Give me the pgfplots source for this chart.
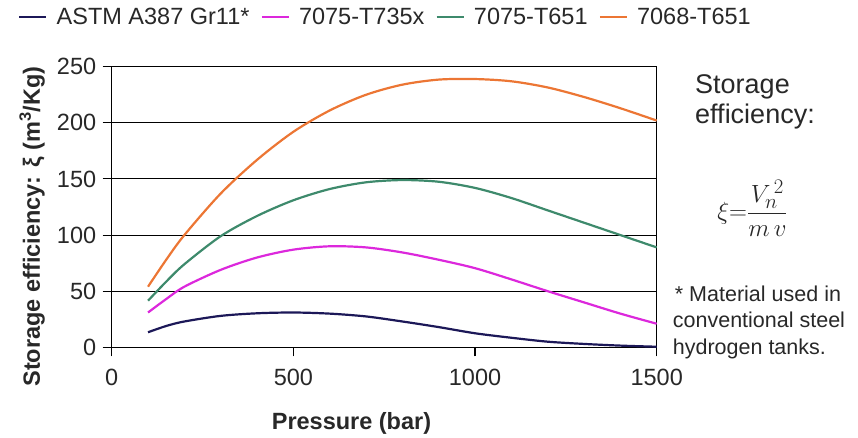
\documentclass[border=0pt]{standalone}
\usepackage{fontspec}
\setmainfont{Liberation Sans}
\usepackage{pgfplots}
\pgfplotsset{compat=1.18}
\definecolor{cnavy}{RGB}{28,24,88}
\definecolor{cmag}{RGB}{220,40,220}
\definecolor{cgreen}{RGB}{62,138,108}
\definecolor{corange}{RGB}{236,118,52}
\definecolor{ctext}{RGB}{40,40,40}
\begin{document}
\begin{tikzpicture}
\useasboundingbox (-111.7pt,-90.7pt) rectangle (746.3pt,347.3pt);
\begin{axis}[
  scale only axis, width=545pt, height=280.6pt,
  at={(0pt,0pt)}, anchor=south west,
  xmin=0, xmax=1500, ymin=0, ymax=250,
  xtick={0,500,1000,1500}, ytick={0,50,100,150,200,250},
  ymajorgrids, grid style={black, line width=1.1pt},
  axis line style={black, line width=1.1pt},
  tick style={black, line width=1.1pt},
  tick align=outside, major tick length=9pt,
  xtick pos=bottom, ytick pos=left,
  ticklabel style={font=\fontsize{23.5}{24}\selectfont, text=ctext},
  /pgf/number format/assume math mode=true,
  /pgf/number format/set thousands separator={},
  xticklabel style={yshift=-9pt},
  yticklabel style={xshift=-3pt},
  xlabel={Pressure (bar)},
  xlabel style={font=\fontsize{23.5}{24}\selectfont\bfseries, text=ctext, at={(axis description cs:0.44,-0.27)}, anchor=center},
  ylabel={Storage efficiency: ξ (m\textsuperscript{3}/Kg)},
  ylabel style={font=\fontsize{23.5}{24}\selectfont\bfseries, text=ctext, at={(axis description cs:-0.1316,0.4305)}, anchor=base, rotate=0},
  legend columns=4,
  legend style={at={(axis description cs:-0.172,1.177)}, anchor=west, draw=none, fill=none,
    font=\fontsize{23.5}{24}\selectfont, text=ctext, inner sep=0pt,
    /tikz/every odd column/.append style={column sep=7pt},
    /tikz/every even column/.append style={column sep=9pt}},
  legend image code/.code={\draw[#1, line width=2.5pt] (0pt,0pt) -- (27pt,0pt);},
  clip=false,
  every axis plot/.append style={line width=2.2pt, smooth},
]
\addplot[cnavy] coordinates {
(100,13.4) (150,19) (200,23) (300,28) (400,30.3) (500,31) (600,30) (700,27.5)
(800,23) (900,18) (1000,12.5) (1100,8.5) (1200,5) (1300,3) (1400,1.5) (1500,0.5)};
\addlegendentry{ASTM A387 Gr11*}
\addplot[cmag] coordinates {
(100,31) (150,43) (200,54) (300,69) (400,80) (500,87) (600,90) (700,89)
(800,84.5) (900,78) (1000,70.5) (1100,60.5) (1200,50) (1300,40) (1400,30) (1500,21)};
\addlegendentry{7075-T735x}
\addplot[cgreen] coordinates {
(100,41.5) (150,58.5) (200,74) (300,99) (400,117) (500,131) (600,141) (700,147)
(800,149) (900,147.5) (1000,142) (1100,133) (1200,122) (1300,111) (1400,100) (1500,89)};
\addlegendentry{7075-T651}
\addplot[corange] coordinates {
(100,54) (150,78) (200,100) (300,137) (400,167) (500,192) (600,211) (700,225)
(800,234) (900,238.5) (1000,239) (1100,237) (1200,231.5) (1300,223) (1400,213) (1500,202)};
\addlegendentry{7068-T651}
\end{axis}
\node[anchor=base west, font=\fontsize{27}{27}\selectfont, text=ctext, inner sep=0pt] at (583.3pt,254pt) {Storage};
\node[anchor=base west, font=\fontsize{27}{27}\selectfont, text=ctext, inner sep=0pt] at (583.3pt,224pt) {efficiency:};
\node[font=\fontsize{28}{30}\selectfont, text=ctext, inner sep=0pt] at (640.8pt,139pt) {$\displaystyle \xi{=}\frac{V_n^{\,2}}{m\,v}$};
\node[anchor=base west, font=\fontsize{21.5}{22}\selectfont, text=ctext, inner sep=0pt] at (563pt,45.3pt) {* Material used in};
\node[anchor=base west, font=\fontsize{21.5}{22}\selectfont, text=ctext, inner sep=0pt] at (561pt,19.3pt) {conventional steel};
\node[anchor=base west, font=\fontsize{21.5}{22}\selectfont, text=ctext, inner sep=0pt] at (561pt,-7.7pt) {hydrogen tanks.};
\end{tikzpicture}
\end{document}
